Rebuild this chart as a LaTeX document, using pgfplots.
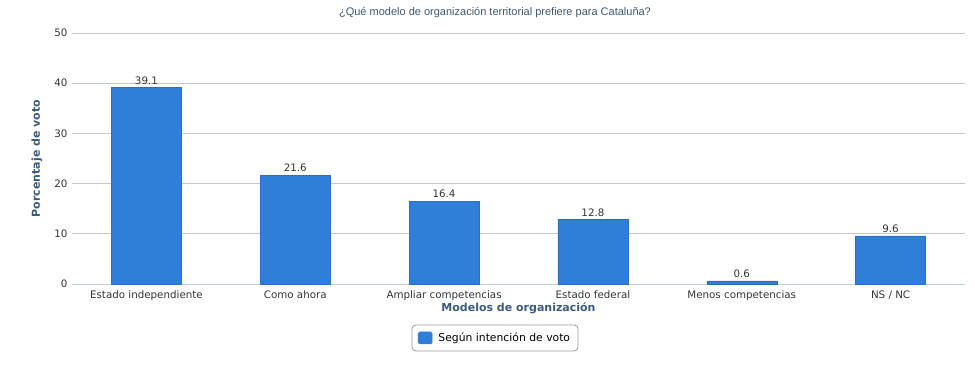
\documentclass[border=0pt]{standalone}
\usepackage{pgfplots}
\pgfplotsset{compat=1.18}
\usepackage{fontspec}
\setmainfont{DejaVu Sans}
\newfontfamily\titlefont{Liberation Sans}
\definecolor{barblue}{HTML}{2F7ED8}
\definecolor{bardark}{HTML}{2A6FC0}
\definecolor{titlecol}{HTML}{3E576F}
\definecolor{axtitle}{HTML}{3A5A80}
\definecolor{gridc}{HTML}{C8C8C8}
\definecolor{xaxc}{HTML}{C0D0E0}
\definecolor{labc}{HTML}{333333}
\begin{document}
\begin{tikzpicture}
\useasboundingbox (0,0) rectangle (975bp,390bp);
\begin{axis}[
  at={(72bp,106bp)}, anchor=south west,
  scale only axis, width=893bp, height=251bp,
  /pgf/number format/assume math mode=true,
  xmin=-0.5, xmax=5.5, ymin=0, ymax=50,
  ytick={0,10,20,30,40,50},
  xtick={0,1,2,3,4,5},
  xticklabels={Estado independiente,Como ahora,Ampliar competencias,Estado federal,Menos competencias,NS / NC},
  major x tick style={draw=none},
  extra x ticks={-0.5,0.5,1.5,2.5,3.5,4.5,5.5},
  extra x tick labels={},
  extra x tick style={major tick length=5bp, tick align=outside, tick style={draw=xaxc, line width=0.8bp}},
  axis x line*=bottom, axis y line*=left,
  x axis line style={draw=xaxc, line width=1bp, -},
  y axis line style={draw=none},
  ytick style={draw=none},
  ymajorgrids, grid style={draw=gridc, line width=0.8bp},
  ybar, bar width=70bp,
  ticklabel style={font=\fontsize{10.3bp}{12bp}\selectfont, text=labc},
  yticklabel style={xshift=-1bp},
  xticklabel style={yshift=1bp},
  nodes near coords,
  every node near coord/.append style={font=\fontsize{10.3bp}{12bp}\selectfont, text=labc, yshift=0bp},
  point meta=explicit symbolic,
  xlabel={\bfseries Modelos de organización},
  xlabel style={at={(axis description cs:0.5,-0.0956)}, anchor=center, font=\fontsize{11bp}{13bp}\selectfont, text=axtitle},
  ylabel={\bfseries Porcentaje de voto},
  ylabel style={at={(axis description cs:-0.0392,0.5)}, anchor=center, rotate=0, font=\fontsize{11bp}{13bp}\selectfont, text=axtitle},
  legend style={at={(axis description cs:0.4737,-0.215)}, anchor=center, draw=gray!80, rounded corners=4bp, line width=0.8bp, font=\fontsize{10.8bp}{13bp}\selectfont, text=black, inner xsep=6bp, inner ysep=6bp},
  legend image code/.code={\fill[barblue, rounded corners=1.5bp] (0bp,-6bp) rectangle (14bp,6bp);},
  clip=false,
]
\addplot[fill=barblue, draw=bardark, line width=0.5bp] coordinates {(0,39.1) [39.1] (1,21.6) [21.6] (2,16.4) [16.4] (3,12.8) [12.8] (4,0.6) [0.6] (5,9.6) [9.6]};
\addlegendentry{\hspace{4bp}Según intención de voto}
\node[anchor=center, text=titlecol, font=\titlefont\fontsize{11bp}{13bp}\selectfont] at (axis description cs:0.4737,1.0797) {¿Qué modelo de organización territorial prefiere para Cataluña?};
\end{axis}
\end{tikzpicture}
\end{document}
